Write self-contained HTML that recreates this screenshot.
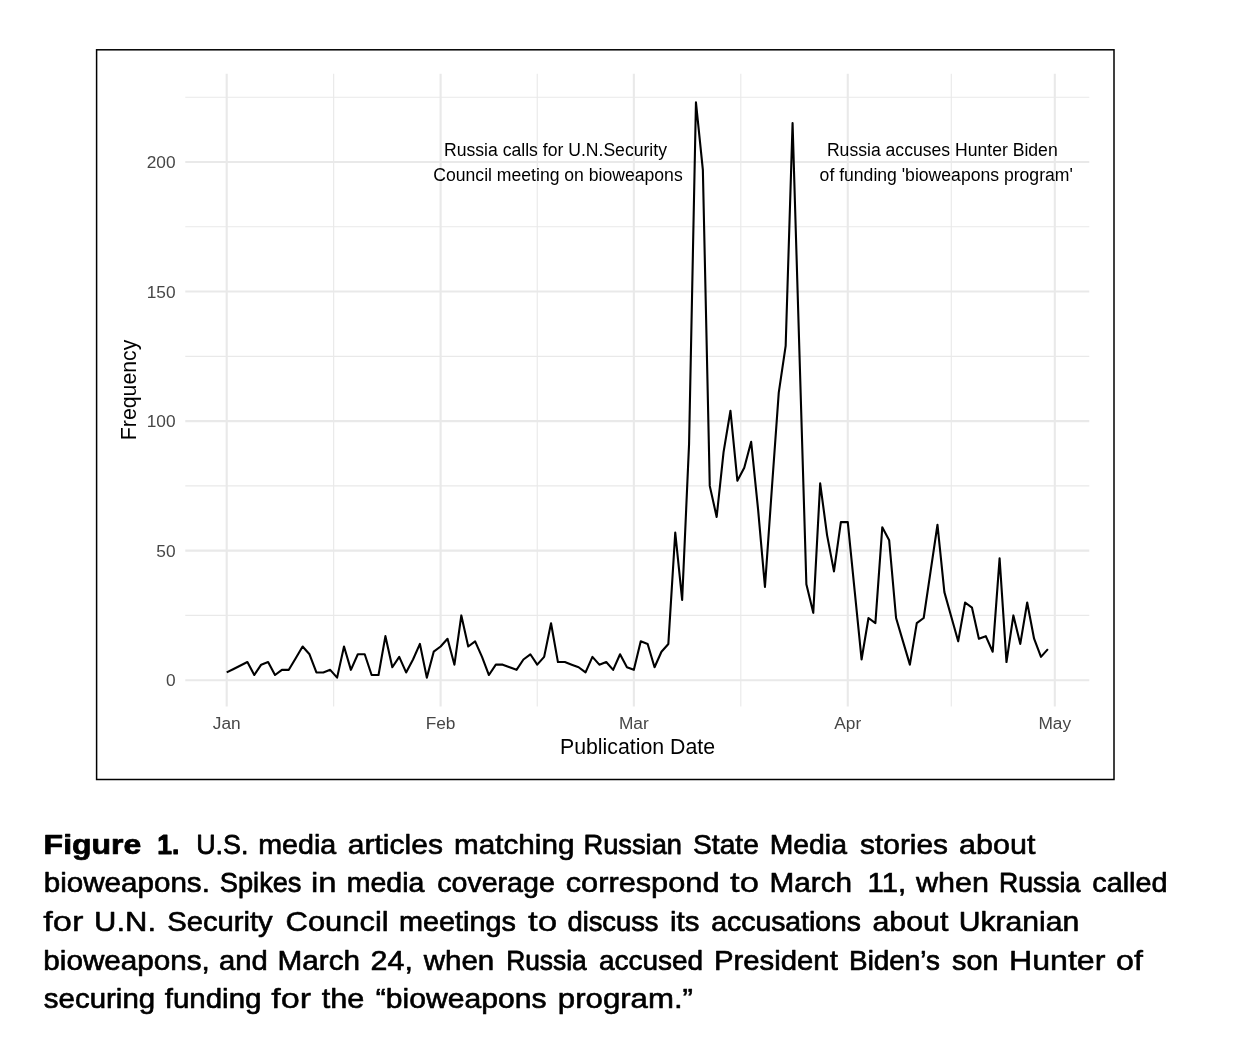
<!DOCTYPE html>
<html lang="en"><head><meta charset="utf-8"><title>Figure 1</title>
<style>html,body{margin:0;padding:0;background:#fff}body{width:1236px;height:1050px;overflow:hidden}svg{display:block}text{font-family:"Liberation Sans",sans-serif}.tick{font-size:17.3px;fill:#474747}.ann{font-size:17.6px;fill:#000}.ttl{font-size:21.3px;fill:#000}.cap{font-size:28.5px;fill:#000;stroke:#000;stroke-width:0.6px;stroke-linejoin:round}</style></head><body>
<svg width="1236" height="1050" viewBox="0 0 1236 1050">
<rect width="1236" height="1050" fill="#fff"/>
<rect x="96.6" y="49.8" width="1017.4" height="729.7" fill="#fff" stroke="#000" stroke-width="1.5"/>
<g stroke="#e9e9e9" stroke-width="1.15" fill="none">
<line x1="333.66" x2="333.66" y1="73.7" y2="706.4"/>
<line x1="537.24" x2="537.24" y1="73.7" y2="706.4"/>
<line x1="740.81" x2="740.81" y1="73.7" y2="706.4"/>
<line x1="951.28" x2="951.28" y1="73.7" y2="706.4"/>
<line x1="185.3" x2="1089.3" y1="615.43" y2="615.43"/>
<line x1="185.3" x2="1089.3" y1="485.88" y2="485.88"/>
<line x1="185.3" x2="1089.3" y1="356.33" y2="356.33"/>
<line x1="185.3" x2="1089.3" y1="226.78" y2="226.78"/>
<line x1="185.3" x2="1089.3" y1="97.23" y2="97.23"/>
</g>
<g stroke="#e9e9e9" stroke-width="2.1" fill="none">
<line x1="226.70" x2="226.70" y1="73.7" y2="706.4"/>
<line x1="440.62" x2="440.62" y1="73.7" y2="706.4"/>
<line x1="633.85" x2="633.85" y1="73.7" y2="706.4"/>
<line x1="847.77" x2="847.77" y1="73.7" y2="706.4"/>
<line x1="1054.80" x2="1054.80" y1="73.7" y2="706.4"/>
<line x1="185.3" x2="1089.3" y1="680.20" y2="680.20"/>
<line x1="185.3" x2="1089.3" y1="550.65" y2="550.65"/>
<line x1="185.3" x2="1089.3" y1="421.10" y2="421.10"/>
<line x1="185.3" x2="1089.3" y1="291.55" y2="291.55"/>
<line x1="185.3" x2="1089.3" y1="162.00" y2="162.00"/>
</g>
<polyline points="226.70,672.43 233.60,668.98 240.50,665.51 247.40,662.06 254.30,675.02 261.20,664.65 268.10,662.06 275.01,675.02 281.91,669.84 288.81,669.84 295.71,658.18 302.61,646.52 309.51,654.29 316.41,672.43 323.31,672.43 330.21,669.84 337.11,677.61 344.01,646.52 350.91,669.84 357.82,654.29 364.72,654.29 371.62,675.02 378.52,675.02 385.42,636.15 392.32,667.25 399.22,656.88 406.12,672.43 413.02,659.47 419.92,643.93 426.82,677.61 433.72,651.70 440.62,646.52 447.53,638.74 454.43,664.65 461.33,615.43 468.23,646.52 475.13,641.34 482.03,656.88 488.93,675.02 495.83,664.65 502.73,664.65 509.63,667.25 516.53,669.84 523.43,659.47 530.34,654.29 537.24,664.65 544.14,656.88 551.04,623.20 557.94,662.06 564.84,662.06 571.74,664.65 578.64,667.25 585.54,672.43 592.44,656.88 599.34,664.65 606.24,662.06 613.14,669.84 620.05,654.29 626.95,667.25 633.85,669.84 640.75,641.34 647.65,643.93 654.55,667.25 661.45,651.70 668.35,643.93 675.25,532.51 682.15,599.88 689.05,444.42 695.95,102.41 702.86,169.77 709.76,485.88 716.66,516.97 723.56,452.19 730.46,410.74 737.36,480.69 744.26,467.74 751.16,441.83 758.06,509.19 764.96,586.92 771.86,488.47 778.76,392.60 785.66,345.96 792.57,123.13 799.47,353.73 806.37,584.33 813.27,612.83 820.17,483.28 827.07,535.10 833.97,571.38 840.87,522.15 847.77,522.15 854.67,590.81 861.57,659.47 868.47,618.02 875.38,623.20 882.28,527.33 889.18,540.29 896.08,618.02 902.98,641.34 909.88,664.65 916.78,623.20 923.68,618.02 930.58,571.38 937.48,524.74 944.38,592.11 951.28,616.72 958.18,641.34 965.09,602.47 971.99,607.65 978.89,638.74 985.79,636.15 992.69,651.70 999.59,558.42 1006.49,662.06 1013.39,615.43 1020.29,643.93 1027.19,602.47 1034.09,638.74 1040.99,656.88 1047.90,649.11" fill="none" stroke="#000" stroke-width="2.1" stroke-linejoin="round" stroke-linecap="butt"/>
<text class="tick" x="175.6" y="686.4" text-anchor="end">0</text>
<text class="tick" x="175.6" y="556.9" text-anchor="end">50</text>
<text class="tick" x="175.6" y="427.3" text-anchor="end">100</text>
<text class="tick" x="175.6" y="297.8" text-anchor="end">150</text>
<text class="tick" x="175.6" y="168.2" text-anchor="end">200</text>
<text class="tick" x="226.7" y="729.1" text-anchor="middle">Jan</text>
<text class="tick" x="440.6" y="729.1" text-anchor="middle">Feb</text>
<text class="tick" x="633.8" y="729.1" text-anchor="middle">Mar</text>
<text class="tick" x="847.8" y="729.1" text-anchor="middle">Apr</text>
<text class="tick" x="1054.8" y="729.1" text-anchor="middle">May</text>
<text class="ttl" x="637.5" y="753.8" text-anchor="middle">Publication Date</text>
<text class="ttl" transform="translate(136.4 389.9) rotate(-90)" text-anchor="middle">Frequency</text>
<text class="ann" x="555.5" y="156.3" text-anchor="middle">Russia calls for U.N.Security</text>
<text class="ann" x="558" y="180.7" text-anchor="middle">Council meeting on bioweapons</text>
<text class="ann" x="942.3" y="156.3" text-anchor="middle">Russia accuses Hunter Biden</text>
<text class="ann" x="946.2" y="180.7" text-anchor="middle">of funding 'bioweapons program'</text>
<text class="cap" y="854"><tspan x="43.62" textLength="97.75" lengthAdjust="spacingAndGlyphs" stroke-width="0.74" font-weight="bold">Figure</tspan> <tspan x="157.24" textLength="22.08" lengthAdjust="spacingAndGlyphs" stroke-width="0.99" font-weight="bold">1.</tspan> <tspan x="196.15" textLength="52.21" lengthAdjust="spacingAndGlyphs" stroke-width="0.78">U.S.</tspan> <tspan x="258.19" textLength="78.03" lengthAdjust="spacingAndGlyphs" stroke-width="0.69">media</tspan> <tspan x="347.85" textLength="95.08" lengthAdjust="spacingAndGlyphs" stroke-width="0.63">articles</tspan> <tspan x="454.14" textLength="120.32" lengthAdjust="spacingAndGlyphs" stroke-width="0.65">matching</tspan> <tspan x="583.49" textLength="98.52" lengthAdjust="spacingAndGlyphs" stroke-width="0.76">Russian</tspan> <tspan x="693.01" textLength="65.82" lengthAdjust="spacingAndGlyphs" stroke-width="0.71">State</tspan> <tspan x="769.71" textLength="77.22" lengthAdjust="spacingAndGlyphs" stroke-width="0.71">Media</tspan> <tspan x="860.08" textLength="87.96" lengthAdjust="spacingAndGlyphs" stroke-width="0.64">stories</tspan> <tspan x="959.13" textLength="76.29" lengthAdjust="spacingAndGlyphs" stroke-width="0.61">about</tspan></text>
<text class="cap" y="892"><tspan x="43.74" textLength="166.14" lengthAdjust="spacingAndGlyphs" stroke-width="0.65">bioweapons.</tspan> <tspan x="219.85" textLength="81.58" lengthAdjust="spacingAndGlyphs" stroke-width="0.76">Spikes</tspan> <tspan x="311.08" textLength="25.56" lengthAdjust="spacingAndGlyphs" stroke-width="0.50">in</tspan> <tspan x="346.70" textLength="77.62" lengthAdjust="spacingAndGlyphs" stroke-width="0.70">media</tspan> <tspan x="437.25" textLength="117.55" lengthAdjust="spacingAndGlyphs" stroke-width="0.70">coverage</tspan> <tspan x="565.72" textLength="153.80" lengthAdjust="spacingAndGlyphs" stroke-width="0.60">correspond</tspan> <tspan x="730.10" textLength="28.96" lengthAdjust="spacingAndGlyphs" stroke-width="0.42">to</tspan> <tspan x="769.62" textLength="82.48" lengthAdjust="spacingAndGlyphs" stroke-width="0.65">March</tspan> <tspan x="867.60" textLength="38.52" lengthAdjust="spacingAndGlyphs" stroke-width="0.67">11,</tspan> <tspan x="915.97" textLength="72.99" lengthAdjust="spacingAndGlyphs" stroke-width="0.61">when</tspan> <tspan x="999.03" textLength="81.32" lengthAdjust="spacingAndGlyphs" stroke-width="0.79">Russia</tspan> <tspan x="1092.34" textLength="75.14" lengthAdjust="spacingAndGlyphs" stroke-width="0.69">called</tspan></text>
<text class="cap" y="931"><tspan x="43.30" textLength="40.22" lengthAdjust="spacingAndGlyphs" stroke-width="0.43">for</tspan> <tspan x="94.13" textLength="61.92" lengthAdjust="spacingAndGlyphs" stroke-width="0.59">U.N.</tspan> <tspan x="167.18" textLength="105.52" lengthAdjust="spacingAndGlyphs" stroke-width="0.67">Security</tspan> <tspan x="285.64" textLength="103.03" lengthAdjust="spacingAndGlyphs" stroke-width="0.59">Council</tspan> <tspan x="399.08" textLength="116.88" lengthAdjust="spacingAndGlyphs" stroke-width="0.69">meetings</tspan> <tspan x="527.99" textLength="29.28" lengthAdjust="spacingAndGlyphs" stroke-width="0.40">to</tspan> <tspan x="567.48" textLength="91.04" lengthAdjust="spacingAndGlyphs" stroke-width="0.75">discuss</tspan> <tspan x="670.05" textLength="29.42" lengthAdjust="spacingAndGlyphs" stroke-width="0.66">its</tspan> <tspan x="711.35" textLength="149.61" lengthAdjust="spacingAndGlyphs" stroke-width="0.71">accusations</tspan> <tspan x="872.43" textLength="75.98" lengthAdjust="spacingAndGlyphs" stroke-width="0.62">about</tspan> <tspan x="958.68" textLength="120.67" lengthAdjust="spacingAndGlyphs" stroke-width="0.62">Ukranian</tspan></text>
<text class="cap" y="970"><tspan x="43.34" textLength="166.55" lengthAdjust="spacingAndGlyphs" stroke-width="0.65">bioweapons,</tspan> <tspan x="219.08" textLength="48.73" lengthAdjust="spacingAndGlyphs" stroke-width="0.67">and</tspan> <tspan x="277.62" textLength="82.48" lengthAdjust="spacingAndGlyphs" stroke-width="0.65">March</tspan> <tspan x="370.57" textLength="42.27" lengthAdjust="spacingAndGlyphs" stroke-width="0.61">24,</tspan> <tspan x="423.66" textLength="70.58" lengthAdjust="spacingAndGlyphs" stroke-width="0.65">when</tspan> <tspan x="506.15" textLength="80.60" lengthAdjust="spacingAndGlyphs" stroke-width="0.80">Russia</tspan> <tspan x="598.96" textLength="104.22" lengthAdjust="spacingAndGlyphs" stroke-width="0.72">accused</tspan> <tspan x="713.94" textLength="123.86" lengthAdjust="spacingAndGlyphs" stroke-width="0.66">President</tspan> <tspan x="849.05" textLength="90.86" lengthAdjust="spacingAndGlyphs" stroke-width="0.73">Biden’s</tspan> <tspan x="952.10" textLength="46.27" lengthAdjust="spacingAndGlyphs" stroke-width="0.69">son</tspan> <tspan x="1008.94" textLength="96.49" lengthAdjust="spacingAndGlyphs" stroke-width="0.53">Hunter</tspan> <tspan x="1116.07" textLength="26.88" lengthAdjust="spacingAndGlyphs" stroke-width="0.53">of</tspan></text>
<text class="cap" y="1008"><tspan x="43.88" textLength="111.25" lengthAdjust="spacingAndGlyphs" stroke-width="0.66">securing</tspan> <tspan x="164.70" textLength="96.77" lengthAdjust="spacingAndGlyphs" stroke-width="0.65">funding</tspan> <tspan x="271.30" textLength="39.92" lengthAdjust="spacingAndGlyphs" stroke-width="0.44">for</tspan> <tspan x="321.73" textLength="42.61" lengthAdjust="spacingAndGlyphs" stroke-width="0.60">the</tspan> <tspan x="375.81" textLength="170.64" lengthAdjust="spacingAndGlyphs" stroke-width="0.63">“bioweapons</tspan> <tspan x="557.86" textLength="135.11" lengthAdjust="spacingAndGlyphs" stroke-width="0.58">program.”</tspan></text>
</svg></body></html>
